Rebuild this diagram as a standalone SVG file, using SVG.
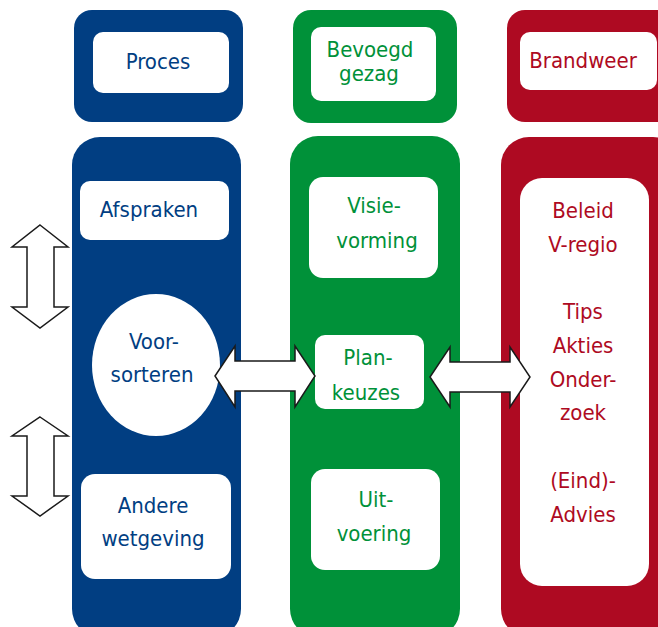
<svg xmlns="http://www.w3.org/2000/svg" width="658" height="627" viewBox="0 0 658 627">
<style>
.blue{fill:#013E82}.green{fill:#009139}.red{fill:#AE0A22}
.w{fill:#fff}
text{font-family:"DejaVu Sans Condensed","Liberation Sans",sans-serif;font-stretch:condensed;font-size:22px;text-anchor:middle}
.tb{fill:#013E82}.tg{fill:#009139}.tr{fill:#AE0A22}
.arrow{fill:#fff;stroke:#1a1a1a;stroke-width:1.5;stroke-linejoin:miter}
</style>
<g id="col-proces">
<rect class="blue" x="74" y="10" width="169" height="112" rx="18"/>
<rect class="w" x="93" y="32" width="136" height="61" rx="10"/>
<text class="tb" x="158" y="69">Proces</text>
</g>
<g id="col-bevoegd">
<rect class="green" x="293" y="10" width="164" height="113" rx="18"/>
<rect class="w" x="311" y="27" width="125" height="74" rx="10"/>
<text class="tg" x="370" y="57">Bevoegd</text>
<text class="tg" x="369" y="81">gezag</text>
</g>
<g id="col-brandweer">
<rect class="red" x="507" y="10" width="170" height="112" rx="18"/>
<rect class="w" x="520" y="32" width="137" height="58" rx="10"/>
<text class="tr" x="583" y="68">Brandweer</text>
</g>
<g id="blue-main">
<rect class="blue" x="72" y="137" width="169" height="500" rx="28"/>
</g>
<g id="green-main">
<rect class="green" x="290" y="136" width="170" height="501" rx="28"/>
</g>
<g id="red-main">
<rect class="red" x="501" y="137" width="180" height="500" rx="28"/>
</g>
<g id="afspraken">
<rect class="w" x="80" y="181" width="149" height="59" rx="10"/>
<text class="tb" x="149" y="217">Afspraken</text>
</g>
<g id="voorsorteren">
<ellipse class="w" cx="156" cy="365" rx="64" ry="71"/>
<text class="tb" x="154" y="349">Voor-</text>
<text class="tb" x="152" y="382">sorteren</text>
</g>
<g id="andere-wetgeving">
<rect class="w" x="81" y="474" width="150" height="105" rx="14"/>
<text class="tb" x="153" y="513">Andere</text>
<text class="tb" x="153" y="546">wetgeving</text>
</g>
<g id="visievorming">
<rect class="w" x="309" y="177" width="129" height="101" rx="14"/>
<text class="tg" x="374" y="213">Visie-</text>
<text class="tg" x="377" y="248">vorming</text>
</g>
<g id="plankeuzes">
<rect class="w" x="315" y="335" width="109" height="74" rx="10"/>
<text class="tg" x="368" y="365">Plan-</text>
<text class="tg" x="366" y="400">keuzes</text>
</g>
<g id="uitvoering">
<rect class="w" x="311" y="469" width="129" height="101" rx="14"/>
<text class="tg" x="376" y="507">Uit-</text>
<text class="tg" x="374" y="541">voering</text>
</g>
<g id="brandweer-taken">
<rect class="w" x="520" y="178" width="129" height="408" rx="22"/>
<text class="tr" x="583" y="218">Beleid</text>
<text class="tr" x="583" y="252">V-regio</text>
<text class="tr" x="583" y="319">Tips</text>
<text class="tr" x="583" y="353">Akties</text>
<text class="tr" x="583" y="387">Onder-</text>
<text class="tr" x="583" y="420">zoek</text>
<text class="tr" x="583" y="488">(Eind)-</text>
<text class="tr" x="583" y="522">Advies</text>
</g>
<g id="connectors">
<polygon class="arrow" points="40,225 68,247 54,247 54,307 68,307 40,328 12,307 27,307 27,247 12,247"/>
<polygon class="arrow" points="40,417 68,436 54,436 54,496 68,496 40,516 12,496 27,496 27,436 12,436"/>
<polygon class="arrow" points="215,376 235,346 235,361 295,361 295,346 315,376 295,407 295,391 235,391 235,407"/>
<polygon class="arrow" points="430,377 450,347 450,362 510,362 510,347 530,377 510,407 510,392 450,392 450,407"/>
</g>
</svg>
